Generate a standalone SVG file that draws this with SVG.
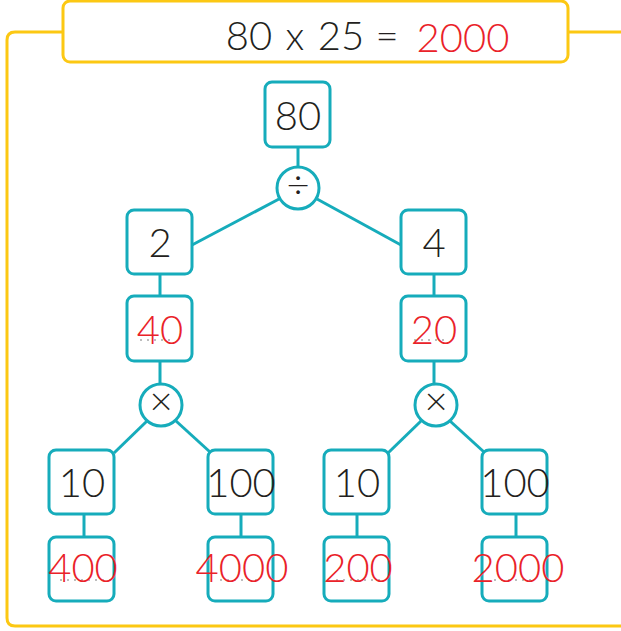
<svg xmlns="http://www.w3.org/2000/svg" width="621" height="631" viewBox="0 0 621 631">
<style>
.box{fill:#fff;stroke:#16acbb;stroke-width:3}
.ln{stroke:#16acbb;stroke-width:3;fill:none}
.t{font-family:Lato,"Open Sans",sans-serif;font-weight:300;font-size:40px;text-anchor:middle;fill:#231f20}
.r{fill:#ea2229}
.g{stroke:#bdbdbd;stroke-width:2;stroke-dasharray:2 5}
.frame{fill:none;stroke:#fcc813;stroke-width:3}
</style>
<rect width="621" height="631" fill="#fff"/>
<path class="frame" d="M63 32 H15 Q7 32 7 40 V618 Q7 626 15 626 H621 M568 32 H621"/>
<g id="title">
<rect x="63" y="1" width="505" height="61" rx="7" fill="#fff" stroke="#fcc813" stroke-width="3"/>
<text class="t" x="249" y="50">80</text>
<text class="t" x="295" y="50" font-size="30">x</text>
<text class="t" x="341" y="50">25</text>
<text class="t" x="387" y="50" font-size="30">=</text>
<text class="t r" x="463" y="52">2000</text>
</g>
<g id="connectors">
<line class="ln" x1="298" y1="148" x2="298" y2="166"/>
<line class="ln" x1="279" y1="199" x2="192" y2="245"/>
<line class="ln" x1="317" y1="199" x2="401" y2="245"/>
<line class="ln" x1="160" y1="274" x2="160" y2="296"/>
<line class="ln" x1="434" y1="274" x2="434" y2="296"/>
<line class="ln" x1="160" y1="361" x2="160" y2="383"/>
<line class="ln" x1="434" y1="361" x2="434" y2="383"/>
<line class="ln" x1="147" y1="421" x2="114" y2="453"/>
<line class="ln" x1="176" y1="421" x2="210" y2="452"/>
<line class="ln" x1="421" y1="421" x2="388" y2="453"/>
<line class="ln" x1="450" y1="421" x2="484" y2="452"/>
<line class="ln" x1="84" y1="514" x2="84" y2="536"/>
<line class="ln" x1="241" y1="514" x2="241" y2="536"/>
<line class="ln" x1="357" y1="514" x2="357" y2="536"/>
<line class="ln" x1="516" y1="514" x2="516" y2="536"/>
</g>
<g id="n80"><rect class="box" x="265" y="82" width="65" height="65" rx="7"/><text class="t" x="298" y="130">80</text></g>
<g id="div"><circle class="box" cx="298" cy="188" r="21"/><text class="t" x="298" y="198" font-size="26">÷</text></g>
<g id="n2"><rect class="box" x="127" y="210" width="65" height="64" rx="7"/><text class="t" x="160" y="257">2</text></g>
<g id="n4"><rect class="box" x="401" y="210" width="65" height="64" rx="7"/><text class="t" x="434" y="257">4</text></g>
<g id="n40"><rect class="box" x="127" y="296" width="65" height="65" rx="7"/><line class="g" x1="140" y1="340" x2="175" y2="340" stroke-width="4"/><text class="t r" x="160" y="344">40</text></g>
<g id="n20"><rect class="box" x="401" y="296" width="65" height="65" rx="7"/><line class="g" x1="414" y1="340" x2="449" y2="340" stroke-width="4"/><text class="t r" x="434" y="344">20</text></g>
<g id="mulL"><circle class="box" cx="161" cy="405" r="21"/><text class="t" x="161" y="415" font-size="28">×</text></g>
<g id="mulR"><circle class="box" cx="436" cy="405" r="21"/><text class="t" x="436" y="415" font-size="28">×</text></g>
<g id="n10a"><rect class="box" x="49" y="450" width="65" height="64" rx="7"/><text class="t" x="82" y="497">10</text></g>
<g id="n100a"><rect class="box" x="208" y="450" width="65" height="64" rx="7"/><text class="t" x="241" y="497">100</text></g>
<g id="n10b"><rect class="box" x="324" y="450" width="65" height="64" rx="7"/><text class="t" x="357" y="497">10</text></g>
<g id="n100b"><rect class="box" x="482" y="450" width="65" height="64" rx="7"/><text class="t" x="515" y="497">100</text></g>
<g id="n400"><rect class="box" x="49" y="537" width="65" height="64" rx="7"/><line class="g" x1="60" y1="580" x2="112" y2="580" stroke-width="4"/><text class="t r" x="83" y="582">400</text></g>
<g id="n4000"><rect class="box" x="208" y="537" width="65" height="64" rx="7"/><line class="g" x1="220" y1="580" x2="262" y2="580" stroke-width="4"/><text class="t r" x="242" y="582">4000</text></g>
<g id="n200"><rect class="box" x="324" y="537" width="65" height="64" rx="7"/><line class="g" x1="336" y1="580" x2="380" y2="580" stroke-width="4"/><text class="t r" x="358" y="582">200</text></g>
<g id="n2000"><rect class="box" x="482" y="537" width="65" height="64" rx="7"/><line class="g" x1="494" y1="580" x2="536" y2="580" stroke-width="4"/><text class="t r" x="518" y="582">2000</text></g>
</svg>
